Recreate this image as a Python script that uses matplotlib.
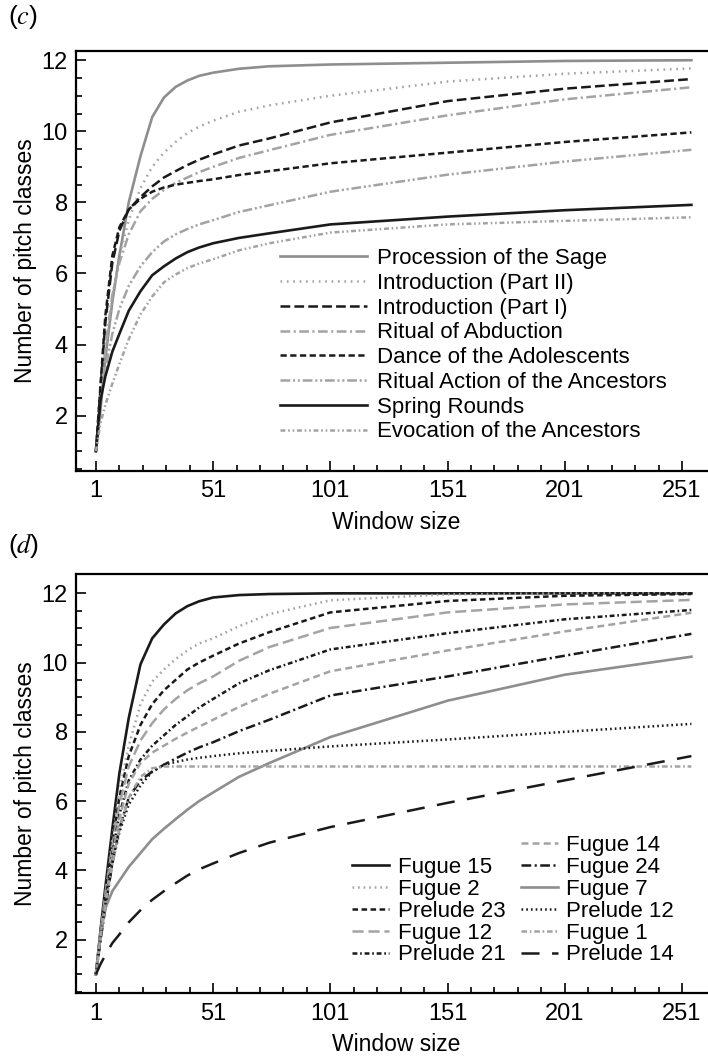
import matplotlib
matplotlib.use("Agg")
import matplotlib.pyplot as plt
from matplotlib.lines import Line2D

plt.rcParams['font.family'] = ['Liberation Sans', 'DejaVu Sans']
plt.rcParams['lines.scale_dashes'] = False
plt.rcParams['mathtext.fontset'] = 'stix'

# --- data, panel (c) ---
win_c = [1, 3, 5, 8, 11, 15, 20, 25, 30, 35, 40, 45, 51, 62, 75, 101, 151, 201, 255]
procession = [1.0, 2.2, 3.6, 5.2, 6.5, 8.0, 9.3, 10.4, 10.95, 11.25, 11.43, 11.56, 11.65, 11.76, 11.83, 11.88, 11.93, 11.98, 12.0]
intro_2 = [1.0, 2.3, 3.7, 5.3, 6.5, 7.5, 8.4, 9.0, 9.4, 9.7, 9.95, 10.13, 10.3, 10.55, 10.73, 11.0, 11.4, 11.62, 11.77]
intro_1 = [1.0, 2.8, 4.6, 6.3, 7.2, 7.8, 8.15, 8.45, 8.7, 8.88, 9.05, 9.2, 9.35, 9.6, 9.8, 10.25, 10.85, 11.2, 11.47]
abduction = [1.0, 2.4, 3.9, 5.4, 6.3, 7.1, 7.75, 8.1, 8.35, 8.55, 8.7, 8.85, 9.0, 9.25, 9.47, 9.9, 10.45, 10.9, 11.24]
dance = [1.0, 2.9, 4.8, 6.5, 7.3, 7.8, 8.1, 8.3, 8.42, 8.5, 8.55, 8.6, 8.65, 8.77, 8.88, 9.1, 9.4, 9.7, 9.97]
ritual_action = [1.0, 2.4, 3.3, 4.3, 5.0, 5.65, 6.2, 6.6, 6.9, 7.1, 7.25, 7.38, 7.5, 7.73, 7.92, 8.3, 8.78, 9.15, 9.48]
spring = [1.0, 2.45, 3.1, 3.8, 4.3, 4.95, 5.5, 5.95, 6.2, 6.42, 6.6, 6.73, 6.85, 7.0, 7.13, 7.38, 7.6, 7.78, 7.93]
evocation = [1.0, 1.8, 2.3, 2.9, 3.45, 4.15, 4.85, 5.35, 5.75, 5.97, 6.15, 6.28, 6.4, 6.65, 6.85, 7.15, 7.38, 7.48, 7.58]

labels_c = ['Procession of the Sage', 'Introduction (Part II)', 'Introduction (Part I)',
            'Ritual of Abduction', 'Dance of the Adolescents', 'Ritual Action of the Ancestors',
            'Spring Rounds', 'Evocation of the Ancestors']

# --- data, panel (d) ---
win_d = [1, 3, 5, 8, 11, 15, 20, 25, 30, 35, 40, 45, 51, 62, 75, 101, 151, 201, 255]
fugue15 = [1.0, 2.3, 3.5, 5.2, 6.8, 8.4, 9.95, 10.7, 11.1, 11.42, 11.63, 11.77, 11.88, 11.95, 11.98, 12.0, 12.0, 12.0, 12.0]
fugue2 = [1.0, 2.2, 3.3, 4.9, 6.3, 7.6, 8.8, 9.45, 9.8, 10.1, 10.35, 10.55, 10.7, 11.05, 11.4, 11.8, 11.97, 12.0, 12.0]
prelude23 = [1.0, 2.2, 3.3, 4.8, 6.1, 7.3, 8.2, 8.8, 9.2, 9.5, 9.8, 10.0, 10.2, 10.55, 10.88, 11.45, 11.78, 11.93, 11.98]
fugue12 = [1.0, 2.2, 3.3, 4.7, 5.9, 7.0, 7.75, 8.25, 8.65, 8.95, 9.2, 9.4, 9.6, 10.05, 10.45, 11.0, 11.45, 11.68, 11.81]
prelude21 = [1.0, 2.1, 3.1, 4.5, 5.6, 6.6, 7.2, 7.6, 7.9, 8.2, 8.45, 8.7, 8.95, 9.4, 9.78, 10.38, 10.85, 11.25, 11.52]
fugue14 = [1.0, 2.1, 3.1, 4.4, 5.5, 6.5, 7.1, 7.4, 7.6, 7.8, 7.98, 8.15, 8.35, 8.72, 9.1, 9.75, 10.35, 10.9, 11.44]
fugue24 = [1.0, 2.0, 2.9, 4.2, 5.2, 6.1, 6.6, 6.85, 7.05, 7.23, 7.4, 7.55, 7.7, 8.02, 8.35, 9.05, 9.6, 10.2, 10.83]
fugue7 = [1.0, 2.2, 2.9, 3.4, 3.7, 4.1, 4.5, 4.9, 5.2, 5.48, 5.75, 6.0, 6.25, 6.7, 7.1, 7.85, 8.9, 9.65, 10.17]
prelude12 = [1.0, 2.1, 3.0, 4.2, 5.1, 5.9, 6.45, 6.85, 7.05, 7.13, 7.2, 7.25, 7.3, 7.38, 7.45, 7.58, 7.78, 8.0, 8.23]
fugue1 = [1.0, 2.1, 3.0, 4.2, 5.2, 6.1, 6.7, 6.95, 7.0, 7.0, 7.0, 7.0, 7.0, 7.0, 7.0, 7.0, 7.0, 7.0, 7.0]
prelude14 = [1.0, 1.3, 1.55, 1.9, 2.15, 2.5, 2.85, 3.15, 3.4, 3.63, 3.85, 4.03, 4.2, 4.5, 4.8, 5.25, 5.95, 6.6, 7.3]

labels_d = ['Fugue 15', 'Fugue 2', 'Prelude 23', 'Fugue 12', 'Prelude 21',
            'Fugue 14', 'Fugue 24', 'Fugue 7', 'Prelude 12', 'Fugue 1', 'Prelude 14']

xticks = [1, 51, 101, 151, 201, 251]

BLK = '#1a1a1a'
G1 = '#8e8e8e'
G2 = '#a3a3a3'

fig = plt.figure(figsize=(7.08, 10.63), dpi=100)
ax_c = fig.add_axes([76/708, 1-470.7/1063, (716-76)/708, (470.7-51)/1063])
ax_d = fig.add_axes([76/708, 1-993.3/1063, (716-76)/708, (993.3-574.3)/1063])

lw = 1.8
styles_c = [
    dict(color=G1, ls='-', lw=1.9),
    dict(color=G2, ls=(0, (1.2, 3.4)), lw=lw),
    dict(color=BLK, ls=(0, (7, 3)), lw=lw),
    dict(color=G2, ls=(0, (7, 2.5, 1.5, 2.5)), lw=lw),
    dict(color=BLK, ls=(0, (4.5, 2.5)), lw=lw),
    dict(color=G2, ls=(0, (7, 2, 1.5, 2, 1.5, 2)), lw=lw),
    dict(color=BLK, ls='-', lw=1.9),
    dict(color=G2, ls=(0, (3.5, 2, 1.2, 2, 1.2, 2)), lw=lw),
]
series_c = [procession, intro_2, intro_1, abduction, dance, ritual_action, spring, evocation]
for ys, st, lab in zip(series_c, styles_c, labels_c):
    ax_c.plot(win_c, ys, label=lab, **st)

styles_d = [
    dict(color=BLK, ls='-', lw=1.9),
    dict(color=G2, ls=(0, (1.2, 2.8)), lw=lw),
    dict(color=BLK, ls=(0, (4, 2.5)), lw=lw),
    dict(color=G2, ls=(0, (8, 3.5)), lw=lw),
    dict(color=BLK, ls=(0, (3.5, 2, 1.2, 2)), lw=lw),
    dict(color=G2, ls=(0, (5, 3)), lw=lw),
    dict(color=BLK, ls=(0, (7, 2.5, 1.5, 2.5)), lw=lw),
    dict(color=G1, ls='-', lw=1.9),
    dict(color=BLK, ls=(0, (1.2, 2.2)), lw=lw),
    dict(color=G2, ls=(0, (4, 2, 1.2, 2)), lw=lw),
    dict(color=BLK, ls=(0, (13, 9)), lw=lw),
]
series_d = [fugue15, fugue2, prelude23, fugue12, prelude21,
            fugue14, fugue24, fugue7, prelude12, fugue1, prelude14]
handles_d = []
for ys, st, lab in zip(series_d, styles_d, labels_d):
    h, = ax_d.plot(win_d, ys, label=lab, **st)
    handles_d.append(h)

FS_TICK = 17
FS_LAB = 16.5
FS_LEG = 16
for ax in (ax_c, ax_d):
    ax.set_xlim(-7.5, 265.5)
    ax.set_xticks(xticks)
    ax.set_xticks(range(11, 260, 10), minor=True)
    ax.set_yticks([2, 4, 6, 8, 10, 12])
    ax.set_yticks([i * 0.5 for i in range(1, 25)], minor=True)
    ax.tick_params(which='both', direction='in', width=1.2, labelsize=FS_TICK, top=False, right=False)
    ax.tick_params(which='major', length=7)
    ax.tick_params(which='minor', length=4)
    ax.tick_params(axis='x', pad=7)
    ax.tick_params(axis='y', pad=6)
    for s in ax.spines.values():
        s.set_linewidth(1.6)
    ax.spines['right'].set_visible(False)
    ax.set_xlabel('Window size', fontsize=FS_LAB, labelpad=6)
    ax.set_ylabel('Number of pitch classes', fontsize=FS_LAB, labelpad=3)

ax_c.set_ylim(0.45, 12.26)
ax_d.set_ylim(0.45, 12.55)

ax_c.legend(loc='upper left', bbox_to_anchor=(280/708, 1-248/1063), bbox_transform=fig.transFigure,
            frameon=False, fontsize=FS_LEG, handlelength=3.9, handletextpad=0.45,
            labelspacing=0.17, borderpad=0, borderaxespad=0)

blank = Line2D([], [], color='none')
ax_d.legend([blank] + handles_d, [''] + labels_d, ncol=2,
            loc='upper left', bbox_to_anchor=(352/708, 1-835/1063), bbox_transform=fig.transFigure,
            frameon=False, fontsize=FS_LEG, handlelength=1.65, handletextpad=0.4,
            labelspacing=0.04, columnspacing=0.7, borderpad=0, borderaxespad=0)

fig.text(8/708, 1-17/1063, r'($c$)', fontsize=19, va='center', ha='left')
fig.text(8/708, 1-545/1063, r'($d$)', fontsize=19, va='center', ha='left')

fig.savefig('out.png', dpi=100)
